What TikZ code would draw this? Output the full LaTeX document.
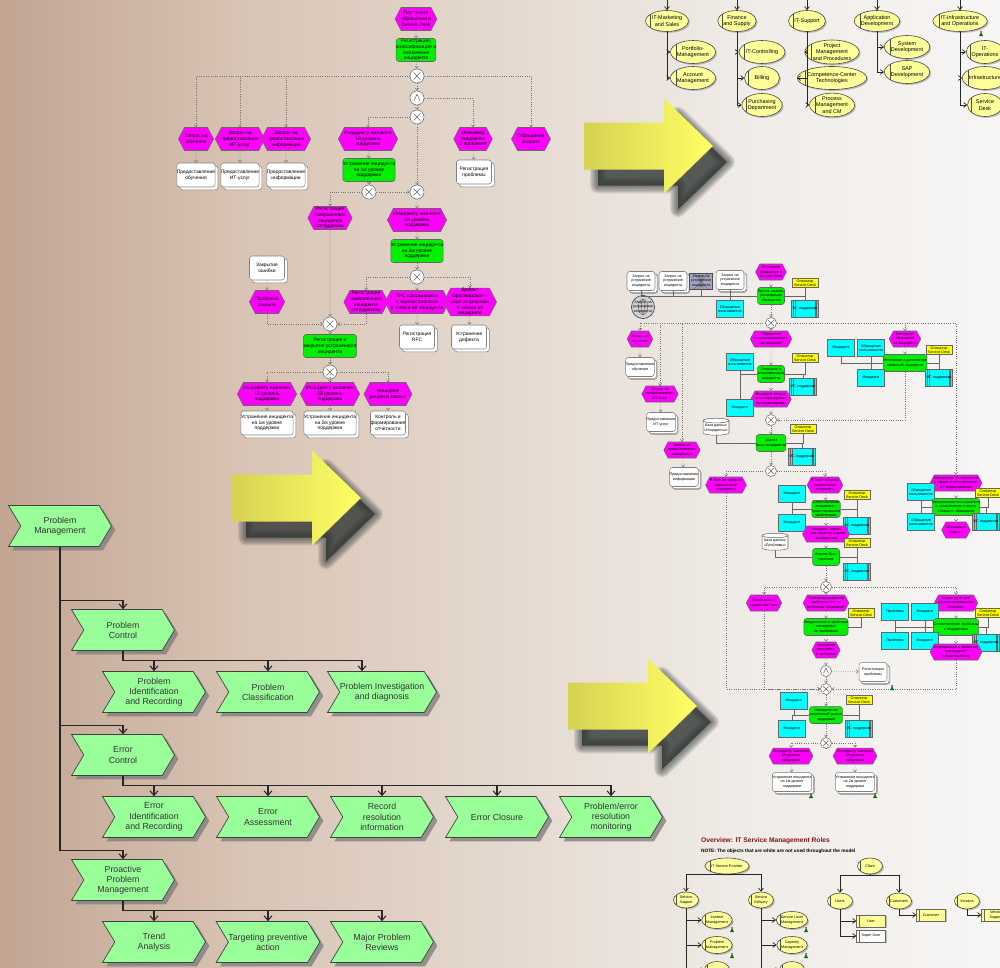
\documentclass[tikz,border=0pt]{standalone}
\usepackage{fontspec}
\setmainfont{Liberation Sans}
\usepackage{tikz}
\usetikzlibrary{shapes.geometric, shapes.symbols, arrows.meta, positioning, calc, shadows}
\definecolor{pmgreen}{RGB}{153,255,153}
\definecolor{evmagenta}{RGB}{255,0,255}
\definecolor{fngreen}{RGB}{0,240,0}
\definecolor{orgyellow}{RGB}{255,255,153}
\definecolor{opyellow}{RGB}{255,255,0}
\definecolor{infocyan}{RGB}{0,255,255}
\definecolor{arrowL}{RGB}{214,210,82}
\definecolor{arrowR}{RGB}{255,255,100}
\definecolor{shadowc}{RGB}{48,54,52}
\definecolor{titlered}{RGB}{128,20,20}
\pgfdeclarehorizontalshading{bgshade}{100bp}{rgb(0bp)=(0.76,0.645,0.575); rgb(25bp)=(0.76,0.645,0.575); rgb(37.5bp)=(0.85,0.77,0.71); rgb(50bp)=(0.895,0.85,0.81); rgb(62.5bp)=(0.94,0.925,0.91); rgb(75bp)=(0.97,0.965,0.96); rgb(100bp)=(0.97,0.965,0.96)}
\newcommand{\pmfont}{\fontsize{5}{5.8}\selectfont}
\newcommand{\epcfont}{\fontsize{2.8}{3.3}\selectfont}
\newcommand{\orgfont}{\fontsize{3.1}{3.7}\selectfont}
\newcommand{\rfont}{\fontsize{2.1}{2.5}\selectfont}

\begin{document}
\begin{tikzpicture}[x=0.02cm, y=-0.02cm,
    pmbox/.style={signal, signal from=west, signal to=east, signal pointer angle=118,
      draw=black!75, fill=pmgreen, line width=0.4pt, minimum width=2.06cm, minimum height=0.82cm,
      inner sep=0pt, align=center, text=black!80, font=\pmfont,
      drop shadow={shadow xshift=2.2pt, shadow yshift=-2.2pt, fill=black!50, opacity=0.8}},
    tree/.style={line width=0.6pt, draw=black!85, -{Straight Barb[length=2.6pt, width=4.5pt]}},
    event/.style={signal, signal to=east and west, signal pointer angle=125, draw=black!60,
      fill=evmagenta, line width=0.3pt, minimum width=0.68cm, minimum height=0.46cm,
      inner sep=0pt, align=center, font=\epcfont},
    func/.style={rectangle, rounded corners=1.5pt, draw=black!60, fill=fngreen, line width=0.3pt,
      minimum width=0.70cm, minimum height=0.46cm, inner sep=0pt, align=center, font=\epcfont},
    doc/.style={rectangle, rounded corners=1.5pt, draw=black!50, fill=white, line width=0.3pt,
      minimum width=0.70cm, minimum height=0.48cm, inner sep=0pt, align=center, font=\epcfont,
      copy shadow={shadow xshift=1.6pt, shadow yshift=-1.6pt, draw=black!50, fill=white}},
    xorop/.style={circle, draw=black!60, fill=white, line width=0.3pt, inner sep=0pt, minimum size=#1,
      path picture={\draw[line width=0.3pt]
        ($(path picture bounding box.center)!0.5!(path picture bounding box.north west)$) --
        ($(path picture bounding box.center)!0.5!(path picture bounding box.south east)$)
        ($(path picture bounding box.center)!0.5!(path picture bounding box.north east)$) --
        ($(path picture bounding box.center)!0.5!(path picture bounding box.south west)$);}},
    andop/.style={circle, draw=black!60, fill=white, line width=0.3pt, inner sep=0pt, minimum size=#1,
      path picture={\draw[line width=0.3pt]
        ($(path picture bounding box.center)!0.45!(path picture bounding box.south west)$) --
        ($(path picture bounding box.center)!0.55!(path picture bounding box.north)$) --
        ($(path picture bounding box.center)!0.45!(path picture bounding box.south east)$);}},
    flow/.style={draw=black!55, line width=0.3pt, densely dotted, -{Straight Barb[length=1.2pt, width=1.8pt]}},
    info/.style={draw=black!60, line width=0.3pt},
    orgunit/.style={ellipse, draw=black!70, fill=orgyellow, line width=0.35pt, inner sep=0pt,
      align=center, font=\orgfont,
      drop shadow={shadow xshift=0.8pt, shadow yshift=-0.8pt, fill=black!40, opacity=0.6},
      path picture={\draw[black!70, line width=0.3pt]
        ($(path picture bounding box.north west)!0.12!(path picture bounding box.north east)$) --
        ($(path picture bounding box.south west)!0.12!(path picture bounding box.south east)$);}},
    orgtop/.style={orgunit, minimum width=0.74cm, minimum height=0.42cm},
    orgsub/.style={orgunit, minimum width=0.70cm, minimum height=0.46cm},
    roleunit/.style={orgunit, minimum width=0.50cm, minimum height=0.32cm, font=\rfont},
    orgline/.style={draw=black!85, line width=0.4pt, -{Straight Barb[length=1.8pt, width=2.8pt]}},
    posbox/.style={rectangle, draw=black!60, fill=orgyellow, line width=0.3pt, inner sep=0pt,
      minimum width=0.58cm, minimum height=0.25cm, font=\rfont, align=center,
      drop shadow={shadow xshift=0.6pt, shadow yshift=-0.6pt, fill=black!40, opacity=0.6},
      path picture={\draw[black!60, line width=0.25pt]
        ($(path picture bounding box.north west)!0.1!(path picture bounding box.north east)$) --
        ($(path picture bounding box.south west)!0.1!(path picture bounding box.south east)$);}},
    revent/.style={event, minimum width=0.50cm, minimum height=0.32cm, font=\rfont},
    rfunc/.style={func, minimum width=0.54cm, minimum height=0.34cm, font=\rfont},
    rdoc/.style={doc, minimum width=0.56cm, minimum height=0.38cm, font=\rfont,
      copy shadow={shadow xshift=1.2pt, shadow yshift=-1.2pt, draw=black!50, fill=white}},
    infobox/.style={rectangle, draw=black!60, fill=infocyan, line width=0.3pt, inner sep=0pt,
      minimum width=0.54cm, minimum height=0.34cm, align=center, font=\rfont},
    appbox/.style={infobox,
      path picture={\foreach \f in {0.07,0.12,0.88,0.93} \draw[black!60, line width=0.25pt]
        ($(path picture bounding box.north west)!\f!(path picture bounding box.north east)$) --
        ($(path picture bounding box.south west)!\f!(path picture bounding box.south east)$);}},
    opbox/.style={rectangle, draw=black!60, fill=opyellow, line width=0.3pt, inner sep=0pt,
      minimum width=0.52cm, minimum height=0.18cm, align=center, font=\rfont},
    dbase/.style={cylinder, shape border rotate=90, aspect=0.2, draw=black!60, fill=white,
      line width=0.3pt, inner sep=0pt, minimum width=0.52cm, minimum height=0.34cm,
      align=center, font=\rfont},
    bigarrow/.pic={
      \fill[shadowc, opacity=0.8, shift={(14,16)}]
          (0,-23.5) -- (80,-23.5) -- (80,-47.5) -- (129,0) -- (80,47.5) -- (80,23.5) -- (0,23.5) -- cycle;
      \foreach \w in {9,7.5,6,4.5,3,1.5}
        \draw[shadowc, shift={(14,16)}, line width=\w pt, line join=round, opacity=0.13]
          (0,-23.5) -- (80,-23.5) -- (80,-47.5) -- (129,0) -- (80,47.5) -- (80,23.5) -- (0,23.5) -- cycle;
      \shade[left color=arrowL, right color=arrowR]
          (0,-23.5) -- (80,-23.5) -- (80,-47.5) -- (129,0) -- (80,47.5) -- (80,23.5) -- (0,23.5) -- cycle;
    }
  ]

  % Background
  \useasboundingbox (0,0) rectangle (1000,967);
  \shade[shading=bgshade] (0,0) rectangle (1000,967);

  % Problem management hierarchy
  \node[pmbox] (pm)  at (60,526)  {Problem\\Management};
  \node[pmbox] (pc)  at (123,630) {Problem\\Control};
  \node[pmbox] (pc1) at (154,692) {Problem\\Identification\\and Recording};
  \node[pmbox] (pc2) at (268,692) {Problem\\Classification};
  \node[pmbox] (pc3) at (382,692) {Problem Investigation\\and diagnosis};
  \node[pmbox] (ec)  at (123,755) {Error\\Control};
  \node[pmbox] (ec1) at (154,817) {Error\\Identification\\and Recording};
  \node[pmbox] (ec2) at (268,817) {Error\\Assessment};
  \node[pmbox] (ec3) at (382,817) {Record\\resolution\\information};
  \node[pmbox] (ec4) at (497,817) {Error Closure};
  \node[pmbox] (ec5) at (611,817) {Problem/error\\resolution\\monitoring};
  \node[pmbox] (pp)  at (123,880) {Proactive\\Problem\\Management};
  \node[pmbox] (pp1) at (154,942) {Trend\\Analysis};
  \node[pmbox] (pp2) at (268,942) {Targeting preventive\\action};
  \node[pmbox] (pp3) at (382,942) {Major Problem\\Reviews};

  \foreach \c in {pc,ec,pp}
    \draw[tree] (pm.south) |- ($(\c.north)+(0,-9)$) -- (\c.north);
  \foreach \c in {pc1,pc2}
    \draw[tree] (pc.south) |- ($(\c.north)+(0,-11)$) -- (\c.north);
  \draw[tree] (pc.south) |- ($(pc3.north)+(-20,-11)$) -- ($(pc3.north)+(-20,0)$);
  \foreach \c in {ec1,ec2,ec3,ec4,ec5}
    \draw[tree] (ec.south) |- ($(\c.north)+(0,-11)$) -- (\c.north);
  \foreach \c in {pp1,pp2,pp3}
    \draw[tree] (pp.south) |- ($(\c.north)+(0,-11)$) -- (\c.north);

  % Incident process (top)
  \node[event] (e1) at (416,19) {Поступило\\обращение в\\Service Desk};
  \node[func] (f1) at (416,50) {Регистрация,\\классификация и\\назначение\\инцидента};
  \node[xorop=0.28cm] (x1) at (417,76) {};
  \node[andop=0.28cm] (a1) at (417,98) {};
  \node[xorop=0.28cm] (x2) at (417,117) {};
  \node[event] (eTrain) at (196,139) {Запрос на\\обучение};
  \node[event] (eServ) at (240,139) {Запрос на\\предоставление\\ИТ-услуг};
  \node[event] (eInfo) at (286,139) {Запрос на\\предоставление\\информации};
  \node[event] (eL1) at (368,139) {Инциденту назначен\\1й уровень\\поддержки};
  \node[event] (eMgr) at (473,139) {Менеджер\\уведомлен\\о проблеме};
  \node[event] (eClosed) at (531,139) {Обращение\\закрыто};
  \node[doc] (dTrain) at (196,175) {Предоставление\\обучения};
  \node[doc] (dServ) at (240,175) {Предоставление\\ИТ-услуг};
  \node[doc] (dInfo) at (286,175) {Предоставление\\информации};
  \node[doc] (dProb) at (474,172) {Регистрация\\проблемы};
  \node[func] (f2) at (369,170) {Устранение инцидента\\на 1м уровне\\поддержки};
  \node[xorop=0.28cm] (x3) at (369,192) {};
  \node[xorop=0.28cm] (x4) at (417,192) {};
  \node[event] (eReg) at (330,218) {Регистрация\\завершенного\\инцидента\\сотрудником};
  \node[event] (eL2) at (417,220) {Инциденту назначен\\2й уровень\\поддержки};
  \node[func] (f3) at (417,251) {Устранение инцидента\\на 2м уровне\\поддержки};
  \node[xorop=0.28cm] (x5) at (417,277) {};
  \node[doc] (dErr) at (267,268) {Закрытие\\ошибки};
  \node[event] (eProb) at (267,302) {Проблема\\закрыта};
  \node[event] (eReg2) at (366,302) {Регистрация\\завершенного\\инцидента\\сотрудником};
  \node[event] (eRfc) at (417,302) {RFC сформирован\\и зарегистрирован\\в записи об инциденте};
  \node[event] (eDef) at (470,302) {Дефект\\сформирован и\\зарегистрирован\\в записи об\\инциденте};
  \node[doc] (dRfc) at (417,337) {Регистрация\\RFC};
  \node[doc] (dDef) at (469,337) {Устранение\\дефекта};
  \node[xorop=0.28cm] (x6) at (330,324) {};
  \node[func] (f4) at (330,346) {Регистрация и\\закрытие устраненного\\инцидента};
  \node[xorop=0.28cm] (x7) at (330,372) {};
  \node[event] (eB1) at (267,394) {Инциденту назначен\\1й уровень\\поддержки};
  \node[event] (eB2) at (330,394) {Инциденту назначен\\2й уровень\\поддержки};
  \node[event] (eB3) at (388,394) {Инцидент\\решен и закрыт};
  \node[doc] (dB1) at (267,423) {Устранение инцидента\\на 1м уровне\\поддержки};
  \node[doc] (dB2) at (330,423) {Устранение инцидента\\на 2м уровне\\поддержки};
  \node[doc] (dB3) at (388,423) {Контроль и\\формирование\\отчетности};

  \draw[flow] (e1) -- (f1);
  \draw[flow] (f1) -- (x1);
  \draw[flow] (x1) -- (a1);
  \foreach \t in {eTrain,eServ,eInfo,eClosed} \draw[flow] (x1) -| (\t);
  \draw[flow] (a1) -- (x2);
  \draw[flow] (a1) -| (eMgr);
  \draw[flow] (x2) -| (eL1);
  \draw[flow] (x2) -- (x4);
  \foreach \t/\d in {eTrain/dTrain,eServ/dServ,eInfo/dInfo,eMgr/dProb,eRfc/dRfc,eDef/dDef,eB1/dB1,eB2/dB2,eB3/dB3}
    \draw[flow] (\t) -- (\d);
  \draw[flow] (eL1) -- (f2);
  \draw[flow] (f2) -- (x3);
  \draw[flow] (x3) -| (eReg);
  \draw[flow] (x3) -- (x4);
  \draw[flow] (x4) -- (eL2);
  \draw[flow] (eL2) -- (f3);
  \draw[flow] (f3) -- (x5);
  \draw[flow] (x5) -| (eReg2);
  \draw[flow] (x5) -- (eRfc);
  \draw[flow] (x5) -| (eDef);
  \draw[flow] (dErr) -- (eProb);
  \draw[flow] (eProb) |- (x6);
  \draw[flow] (eReg2) |- (x6);
  \draw[flow] (eReg) -- (x6);
  \draw[flow] (x6) -- (f4);
  \draw[flow] (f4) -- (x7);
  \foreach \t in {eB1,eB2,eB3} \draw[flow] (x7) -| (\t);

  % Organisation chart (top right)
  \node[orgtop] (o1) at (667,21) {IT-Marketing\\and Sales};
  \node[orgtop] (o2) at (737,21) {Finance\\and Supply};
  \node[orgtop] (o3) at (807,21) {IT-Support};
  \node[orgtop] (o4) at (877,21) {Application\\Development};
  \node[orgtop] (o5) at (960,21) {IT-Infrastructure\\and Operations};
  \node[orgsub] (o11) at (693,52)  {Portfolio-\\Management};
  \node[orgsub] (o12) at (693,78)  {Account\\Management};
  \node[orgsub] (o21) at (762,52)  {IT-Controlling};
  \node[orgsub] (o22) at (762,78)  {Billing};
  \node[orgsub] (o23) at (762,105) {Purchasing\\Department};
  \node[orgsub] (o31) at (832,52)  {Project\\Management\\and Procedures};
  \node[orgsub] (o32) at (832,78)  {Competence-Center\\Technologies};
  \node[orgsub] (o33) at (832,105) {Process\\Management\\and CM};
  \node[orgsub] (o41) at (907,47)  {System\\Development};
  \node[orgsub] (o42) at (907,72)  {SAP\\Development};
  \node[orgsub] (o51) at (985,52)  {IT-\\Operations};
  \node[orgsub] (o52) at (985,78)  {Infrastructure};
  \node[orgsub] (o53) at (985,105) {Service\\Desk};

  \foreach \o in {o1,o2,o3,o4,o5} {
    \coordinate (\o in) at (\o.north |- 0,0);
    \draw[orgline] (\o in) -- (\o);
  }
  \foreach \p/\c in {o1/o11,o1/o12,o2/o21,o2/o22,o2/o23,o3/o31,o3/o32,o3/o33,o4/o41,o4/o42,o5/o51,o5/o52,o5/o53}
    \draw[orgline] (\p.south) |- (\c.west);

  % Service desk process (right)
  \node[rdoc] (rq1) at (641,281) {Запрос на\\устранение\\инцидента};
  \node[rdoc] (rq2) at (673,281) {Запрос на\\устранение\\инцидента};
  \node[rectangle, draw=black!70, fill=blue!20!gray!60, minimum width=0.46cm, minimum height=0.32cm,
    inner sep=0pt, align=center, font=\rfont,
    path picture={\foreach \f in {0.2,0.4,0.6,0.8} \draw[black!60, line width=0.2pt]
      ($(path picture bounding box.north west)!\f!(path picture bounding box.north east)$) --
      ($(path picture bounding box.south west)!1-\f!(path picture bounding box.south east)$);}]
    (rq3) at (701,281) {Запрос на\\устранение\\инцидента};
  \node[rdoc] (rq4) at (730,280) {Запрос на\\устранение\\инцидента};
  \node[circle, draw=black!70, fill=gray!35, minimum size=0.44cm, inner sep=0pt, align=center, font=\rfont,
    path picture={\draw[black!60, line width=0.25pt]
      (path picture bounding box.center) ellipse (0.9pt and 4.4pt)
      (path picture bounding box.center) ellipse (2.7pt and 4.4pt)
      (path picture bounding box.west) -- (path picture bounding box.east);}]
    (globe) at (643,307) {Запрос на\\устранение\\инцидента};
  \node[revent] (re1) at (771,272) {Поступило\\обращение в\\Service Desk};
  \node[rfunc] (rf1) at (771,296) {Прием, анализ,\\регистрация\\обращения};
  \node[opbox] (ry1) at (805,283) {Оператор\\Service Desk};
  \node[infobox] (rc1) at (730,309) {Обращение\\пользователя};
  \node[appbox] (rs1) at (805,309) {ИС поддержки};
  \node[xorop=0.22cm] (rx1) at (771,323) {};
  \node[revent] (reT) at (640,339) {Запрос на\\обучение};
  \node[rdoc] (rdT) at (640,367) {Предоставление\\обучения};
  \node[revent] (reS) at (660,394) {Запрос на\\предоставление\\ИТ-услуг};
  \node[rdoc] (rdS) at (661,422) {Предоставление\\ИТ-услуг};
  \node[revent] (reI) at (682,450) {Запрос на\\предоставление\\информации};
  \node[rdoc] (rdI) at (684,477) {Предоставление\\информации};
  \node[revent] (reCls) at (771,339) {Обращение\\классифицировано\\как инцидент};
  \node[infobox] (rc2) at (740,362) {Обращение\\пользователя};
  \node[opbox] (ry2) at (805,358) {Оператор\\Service Desk};
  \node[rfunc] (rf2) at (771,374) {Открытие и\\классификация\\инцидента};
  \node[appbox] (rs2) at (803,387) {ИС поддержки};
  \node[revent] (reOpen) at (771,399) {Инцидент открыт,\\классифицирован,\\проиндексирован};
  \node[infobox] (rc3) at (740,408) {Инцидент};
  \node[xorop=0.22cm] (rx2) at (771,420) {};
  \node[dbase] (rdb1) at (716,428) {База данных\\«Инциденты»};
  \node[opbox] (ry3) at (803,429) {Оператор\\Service Desk};
  \node[rfunc] (rf3) at (771,443) {Анализ\\базы инцидентов};
  \node[appbox] (rs3) at (802,457) {ИС поддержки};
  \node[xorop=0.22cm] (rx3) at (771,471) {};
  \node[revent] (reNF) at (726,485) {В базе не найдены\\аналогичные\\инциденты};
  \node[revent] (reF) at (825,485) {В базе найдены\\аналогичные\\инциденты};
  \node[infobox] (rc4) at (792,494) {Инцидент};
  \node[opbox] (ry4) at (857,495) {Оператор\\Service Desk};
  \node[rfunc] (rf4) at (826,509) {Сопоставление\\инцидента с\\существующими\\проблемами};
  \node[infobox] (rc5) at (792,523) {Инцидент};
  \node[appbox] (rs4) at (857,526) {ИС поддержки};
  \node[revent] (reLnk) at (826,534) {Инцидент связан\\с уже существующими\\инцидентами};
  \node[dbase] (rdb2) at (775,543) {База данных\\«Проблемы»};
  \node[opbox] (ry5) at (857,543) {Оператор\\Service Desk};
  \node[rfunc] (rf5) at (826,557) {Анализ базы\\проблем};
  \node[appbox] (rs5) at (857,572) {ИС поддержки};
  \node[xorop=0.22cm] (rx4) at (826,587) {};
  \node[revent] (reNo) at (764,603) {Проблемы не\\существует уже};
  \node[revent] (reNone) at (826,603) {Зарегистрированной\\проблемы нет, но\\проблема существует};
  \node[opbox] (ry6) at (861,613) {Оператор\\Service Desk};
  \node[rfunc] (rf6) at (826,627) {Уведомление о проблеме\\менеджера\\по проблемам};
  \node[revent] (reMgr) at (826,650) {Менеджер\\уведомлен\\о проблеме};
  \node[andop=0.22cm] (ra1) at (826,671) {};
  \node[rdoc] (rdP) at (873,672) {Регистрация\\проблемы};
  \node[xorop=0.22cm] (rx5) at (826,689) {};
  \node[revent] (reEx) at (956,603) {Существует уже\\зарегистрированная\\проблема};
  \node[infobox] (rc6) at (895,612) {Проблема};
  \node[infobox] (rc7) at (925,612) {Инцидент};
  \node[opbox] (ry7) at (988,613) {Оператор\\Service Desk};
  \node[rfunc] (rf7) at (956,627) {Сопоставление проблемы\\с инцидентом};
  \node[infobox] (rc8) at (895,641) {Проблема};
  \node[infobox] (rc9) at (925,641) {Инцидент};
  \node[appbox] (rs6) at (986,643) {ИС поддержки};
  \node[revent] (reInf) at (956,652) {Информация о проблеме\\и инциденте\\в базе проблем};
  \node[revent] (reOut) at (956,483) {Обращение не относится\\к сфере ответственности\\ИТ-подразделения};
  \node[infobox] (rc10) at (921,492) {Обращение\\пользователя};
  \node[opbox] (ry8) at (988,493) {Оператор\\Service Desk};
  \node[rfunc] (rf8) at (956,507) {Уведомление пользователя\\и установление статуса\\«Закрыт» обращения};
  \node[infobox] (rc11) at (921,522) {Обращение\\пользователя};
  \node[appbox] (rs7) at (986,522) {ИС поддержки};
  \node[revent] (reOutC) at (956,530) {Обращение\\закрыто};
  \node[revent] (reRep) at (905,339) {Повторное\\обращение\\по инциденту};
  \node[infobox] (rc12) at (841,348) {Инцидент};
  \node[infobox] (rc13) at (871,348) {Обращение\\пользователя};
  \node[rfunc] (rf9) at (905,363) {Изменение и дополнение\\записи об инциденте};
  \node[opbox] (ry9) at (939,350) {Оператор\\Service Desk};
  \node[infobox] (rc14) at (871,378) {Инцидент};
  \node[appbox] (rs8) at (939,378) {ИС поддержки};
  \node[infobox] (rc15) at (794,701) {Инцидент};
  \node[opbox] (ry10) at (859,700) {Оператор\\Service Desk};
  \node[rfunc] (rf10) at (826,715) {Определение\\назначений уровня\\поддержки};
  \node[infobox] (rc16) at (792,729) {Инцидент};
  \node[appbox] (rs9) at (859,729) {ИС поддержки};
  \node[xorop=0.22cm] (rx6) at (826,743) {};
  \node[revent] (reL1) at (791,756) {Инциденту назначен\\1й уровень\\поддержки};
  \node[revent] (reL2) at (855,756) {Инциденту назначен\\2й уровень\\поддержки};
  \node[rdoc] (rdL1) at (792,782) {Устранение инцидента\\на 1м уровне\\поддержки};
  \node[rdoc] (rdL2) at (855,782) {Устранение инцидента\\на 2м уровне\\поддержки};

  \foreach \q in {rq1,rq2,rq3,rq4} \draw[info] (\q.south) |- (rf1.west);
  \draw[info] (globe) -- (rq1);
  \foreach \a/\f in {rc1/rf1,ry1/rf1,rs1/rf1,rc2/rf2,ry2/rf2,rs2/rf2,rc3/rf2,rdb1/rf3,ry3/rf3,rs3/rf3,
      rc4/rf4,ry4/rf4,rc5/rf4,rs4/rf4,rdb2/rf5,ry5/rf5,rs5/rf5,ry6/rf6,
      rc6/rf7,rc7/rf7,ry7/rf7,rc8/rf7,rc9/rf7,rs6/rf7,rc10/rf8,ry8/rf8,rc11/rf8,rs7/rf8,
      rc12/rf9,rc13/rf9,ry9/rf9,rc14/rf9,rs8/rf9,rc15/rf10,ry10/rf10,rc16/rf10,rs9/rf10}
    \draw[info] (\a) |- (\f);
  \foreach \s/\t in {re1/rf1,rf1/rx1,rx1/reCls,reCls/rf2,rf2/reOpen,reOpen/rx2,rx2/rf3,rf3/rx3,
      reF/rf4,rf4/reLnk,reLnk/rf5,rf5/rx4,rx4/reNone,reNone/rf6,rf6/reMgr,reMgr/ra1,ra1/rx5,ra1/rdP,
      reEx/rf7,rf7/reInf,rx5/rf10,rf10/rx6,reL1/rdL1,reL2/rdL2,reT/rdT,reS/rdS,reI/rdI,
      reRep/rf9,reOut/rf8,rf8/reOutC}
    \draw[flow] (\s) -- (\t);
  \foreach \t in {reT,reS,reI,reRep,reOut} \draw[flow] (rx1) -| (\t);
  \foreach \t in {reNF,reF} \draw[flow] (rx3) -| (\t);
  \foreach \t in {reNo,reEx} \draw[flow] (rx4) -| (\t);
  \foreach \t in {reL1,reL2} \draw[flow] (rx6) -| (\t);
  \foreach \s in {reNF,reNo,reInf} \draw[flow] (\s) |- (rx5);
  \draw[flow] (rf9) |- (rx2);

  % Roles overview (bottom right)
  \node[anchor=west, text=titlered, font=\bfseries\fontsize{3.8}{4.5}\selectfont] (rtitle) at (695,841)
    {Overview: IT Service Management Roles};
  \node[anchor=west, font=\bfseries\fontsize{2.7}{3.2}\selectfont] (rnote) at (695,851)
    {NOTE: The objects that are white are not used throughout the model};
  \node[roleunit] (r1) at (727,866) {IT Service Provider};
  \node[roleunit] (r2) at (686,900) {Service\\Support};
  \node[roleunit] (r3) at (761,900) {Service\\Delivery};
  \node[roleunit, minimum height=0.34cm] (r21) at (717,920) {Incident\\Management};
  \node[roleunit, minimum height=0.34cm] (r22) at (717,945) {Problem\\Management};
  \node[roleunit, minimum height=0.34cm] (r23) at (717,970) {};
  \node[roleunit, minimum height=0.34cm] (r31) at (792,920) {Service Level\\Management};
  \node[roleunit, minimum height=0.34cm] (r32) at (792,945) {Capacity\\Management};
  \node[roleunit, minimum height=0.34cm] (r33) at (792,970) {};
  \node[roleunit] (c1) at (870,866) {Client};
  \node[roleunit] (u1) at (840,901) {Users};
  \node[roleunit] (u2) at (899,901) {Customers};
  \node[roleunit] (u3) at (967,901) {Vendors};
  \node[posbox] (p1) at (871,921) {User};
  \node[posbox, fill=white] (p2) at (871,936) {Super User};
  \node[posbox] (p3) at (931,915) {Customer};
  \node[posbox] (p4) at (996,915) {Vendor\\Support};

  \foreach \c in {r2,r3} \draw[orgline] (r1.south) |- ($(\c.north)+(0,-17)$) -- (\c.north);
  \foreach \c in {u1,u2} \draw[orgline] (c1.south) |- ($(\c.north)+(0,-17)$) -- (\c.north);
  \foreach \p/\c in {r2/r21,r2/r22,r2/r23,r3/r31,r3/r32,r3/r33,u1/p1,u1/p2,u2/p3,u3/p4}
    \draw[orgline] (\p.south) |- (\c.west);

  % Assignment marks
  \foreach \p in {(732,930),(732,956),(806,930),(806,956),(981,34),(811,796),(875,796),(892,688)} {
    \fill[green!45!black] \p ++(-2,2) -- ++(4,0) -- ++(-2,-4) -- cycle;
    \fill[magenta!80!black] \p ++(0,-2.2) circle (0.6pt);
  }

  % Big arrows
  \pic at (584,146) {bigarrow};
  \pic at (232,498) {bigarrow};
  \pic at (568,706) {bigarrow};
\end{tikzpicture}
\end{document}
